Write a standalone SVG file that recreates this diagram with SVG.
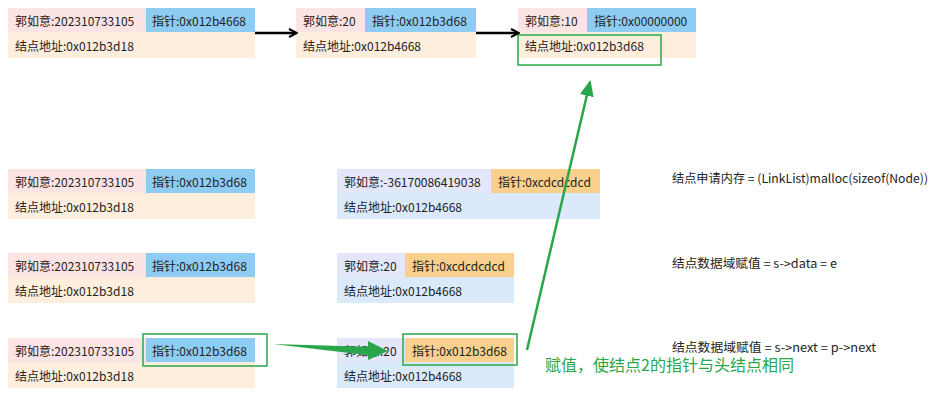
<svg xmlns="http://www.w3.org/2000/svg" width="949" height="400" viewBox="0 0 949 400">
<defs>
<style>
text{font-family:"Microsoft YaHei","Noto Sans CJK SC",sans-serif;font-size:12px;fill:#222;dominant-baseline:central}
.pk{fill:#fde4e4}.bl{fill:#8fccf3}.pe{fill:#feeedd}.lv{fill:#e4e6fa}.or{fill:#f9d08e}.lb{fill:#dbeafa}
.gb{fill:none;stroke:#2aa64a;stroke-width:1.5}
.g{fill:#2aa64a;font-size:16px}
</style>
<marker id="ab" markerWidth="10" markerHeight="10" refX="8" refY="5" orient="auto" markerUnits="userSpaceOnUse"><path d="M1,1 L9,5 L1,9" fill="none" stroke="#000" stroke-width="2"/></marker>
<marker id="ag" markerWidth="16" markerHeight="16" refX="14" refY="8" orient="auto" markerUnits="userSpaceOnUse"><path d="M0,1 L16,8 L0,15 Z" fill="#2aa64a"/></marker>
</defs>
<g id="n1"><rect class="pk" x="8" y="8" width="138" height="24"/><rect class="bl" x="146" y="8" width="109" height="24"/><rect class="pe" x="8" y="32" width="247" height="26"/>
<text x="15" y="20">郭如意:202310733105</text><text x="152" y="20">指针:0x012b4668</text><text x="15" y="45">结点地址:0x012b3d18</text></g>
<g id="n2"><rect class="pk" x="296" y="8" width="69" height="24"/><rect class="bl" x="365" y="8" width="111" height="24"/><rect class="pe" x="296" y="32" width="180" height="26"/>
<text x="303" y="20">郭如意:20</text><text x="372" y="20">指针:0x012b3d68</text><text x="303" y="45">结点地址:0x012b4668</text></g>
<g id="n3"><rect class="pk" x="518" y="8" width="69" height="24"/><rect class="bl" x="587" y="8" width="109" height="24"/><rect class="pe" x="518" y="32" width="178" height="26"/>
<text x="525" y="20">郭如意:10</text><text x="594" y="20">指针:0x00000000</text><text x="525" y="45">结点地址:0x012b3d68</text>
<rect class="gb" x="518" y="35" width="143" height="30"/></g>
<g id="n4"><rect class="pk" x="8" y="169" width="138" height="24"/><rect class="bl" x="146" y="169" width="109" height="24"/><rect class="pe" x="8" y="193" width="247" height="26"/>
<text x="15" y="181">郭如意:202310733105</text><text x="152" y="181">指针:0x012b3d68</text><text x="15" y="206">结点地址:0x012b3d18</text></g>
<g id="n5"><rect class="lv" x="337" y="169" width="154" height="24"/><rect class="or" x="491" y="169" width="109" height="24"/><rect class="lb" x="337" y="193" width="263" height="26"/>
<text x="344" y="181">郭如意:-36170086419038</text><text x="498" y="181">指针:0xcdcdcdcd</text><text x="344" y="206">结点地址:0x012b4668</text></g>
<g id="n6"><rect class="pk" x="8" y="253" width="138" height="24"/><rect class="bl" x="146" y="253" width="109" height="24"/><rect class="pe" x="8" y="277" width="247" height="26"/>
<text x="15" y="265">郭如意:202310733105</text><text x="152" y="265">指针:0x012b3d68</text><text x="15" y="290">结点地址:0x012b3d18</text></g>
<g id="n7"><rect class="lv" x="337" y="253" width="68" height="24"/><rect class="or" x="405" y="253" width="109" height="24"/><rect class="lb" x="337" y="277" width="177" height="26"/>
<text x="344" y="265">郭如意:20</text><text x="412" y="265">指针:0xcdcdcdcd</text><text x="344" y="290">结点地址:0x012b4668</text></g>
<g id="n8"><rect class="pk" x="8" y="338" width="138" height="24"/><rect class="bl" x="146" y="338" width="109" height="24"/><rect class="pe" x="8" y="362" width="247" height="26"/>
<text x="15" y="350">郭如意:202310733105</text><text x="152" y="350">指针:0x012b3d68</text><text x="15" y="375">结点地址:0x012b3d18</text>
<rect class="gb" x="143" y="334" width="124" height="32"/></g>
<g id="n9"><rect class="lv" x="337" y="338" width="68" height="24"/><rect class="or" x="405" y="338" width="109" height="24"/><rect class="lb" x="337" y="362" width="177" height="26"/>
<text x="344" y="350">郭如意:20</text><text x="412" y="350">指针:0x012b3d68</text><text x="344" y="375">结点地址:0x012b4668</text>
<rect class="gb" x="403" y="334" width="114" height="31"/></g>
<g id="notes"><text x="672" y="177" textLength="256" lengthAdjust="spacingAndGlyphs">结点申请内存 = (LinkList)malloc(sizeof(Node))</text>
<text x="672" y="262" textLength="165" lengthAdjust="spacingAndGlyphs">结点数据域赋值 = s-&gt;data = e</text>
<text x="672" y="346" textLength="204" lengthAdjust="spacingAndGlyphs">结点数据域赋值 = s-&gt;next = p-&gt;next</text>
<text class="g" x="545" y="364">赋值，使结点2的指针与头结点相同</text></g>
<g id="connectors">
<line x1="255" y1="33" x2="296" y2="33" stroke="#000" stroke-width="2.5" marker-end="url(#ab)"/>
<line x1="476" y1="33" x2="518" y2="33" stroke="#000" stroke-width="2.5" marker-end="url(#ab)"/>
<path d="M273,344 L375,347 L375,356 Z" fill="#2aa64a"/>
<path d="M368,341 L388,351 L368,360 Z" fill="#2aa64a"/>
<line x1="527" y1="350" x2="590" y2="82" stroke="#2aa64a" stroke-width="2.5" marker-end="url(#ag)"/>
</g>
</svg>
